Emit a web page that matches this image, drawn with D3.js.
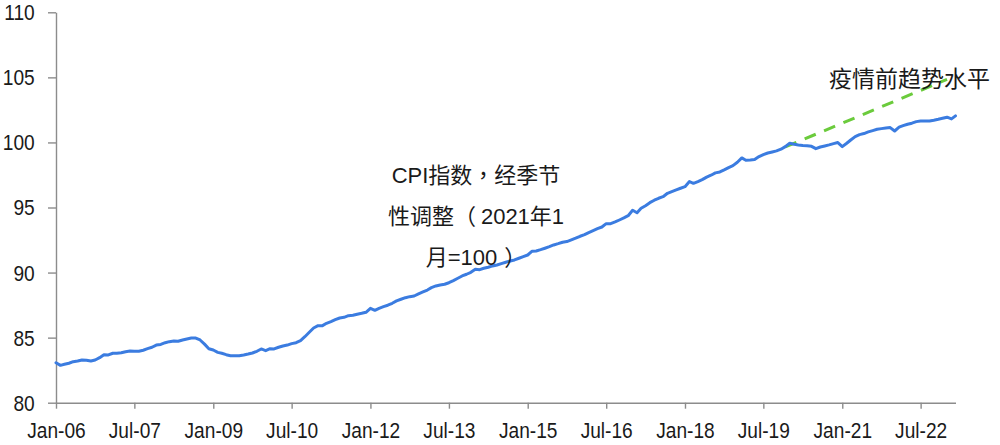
<!DOCTYPE html>
<html>
<head>
<meta charset="utf-8">
<script src="https://cdn.jsdelivr.net/npm/d3@7"></script>
<style>
  html, body { margin: 0; padding: 0; background: #fff; }
  svg { display: block; }
</style>
</head>
<body>
<svg id="chart" width="1000" height="445"></svg>
<script>
// ---------------- DATA ----------------
const startMonth = "2006-01";          // first observation (monthly series)
// CPI index, seasonally adjusted (Jan 2021 = 100), Jan-06 .. Mar-23
const cpiValues = [
  83.07, 82.87, 82.95, 83.03, 83.15, 83.20, 83.28, 83.26, 83.20, 83.28, 83.46, 83.69, // 2006
  83.67, 83.80, 83.80, 83.84, 83.92, 83.97, 83.95, 83.95, 84.03, 84.15, 84.26, 84.43, // 2007
  84.48, 84.61, 84.69, 84.74, 84.72, 84.82, 84.90, 84.97, 84.97, 84.82, 84.50, 84.15, // 2008
  84.05, 83.87, 83.80, 83.69, 83.61, 83.61, 83.61, 83.67, 83.74, 83.82, 83.95, 84.13, // 2009
  84.00, 84.15, 84.13, 84.26, 84.36, 84.43, 84.54, 84.61, 84.77, 85.07, 85.41, 85.74, // 2010
  85.92, 85.92, 86.10, 86.23, 86.38, 86.51, 86.56, 86.69, 86.72, 86.80, 86.87, 86.95, // 2011
  87.25, 87.10, 87.25, 87.38, 87.49, 87.64, 87.82, 87.95, 88.07, 88.15, 88.20, 88.36, // 2012
  88.51, 88.66, 88.84, 88.97, 89.05, 89.10, 89.22, 89.38, 89.56, 89.74, 89.87, 90.02, // 2013
  90.25, 90.22, 90.33, 90.41, 90.51, 90.58, 90.69, 90.79, 90.89, 90.97, 91.10, 91.22, // 2014
  91.35, 91.64, 91.66, 91.76, 91.87, 91.99, 92.12, 92.22, 92.33, 92.38, 92.51, 92.64, // 2015
  92.79, 92.91, 93.07, 93.22, 93.37, 93.50, 93.76, 93.76, 93.89, 94.04, 94.20, 94.37, // 2016
  94.79, 94.60, 94.94, 95.14, 95.37, 95.56, 95.71, 95.83, 96.09, 96.22, 96.35, 96.48, // 2017
  96.60, 96.99, 96.86, 96.99, 97.14, 97.33, 97.48, 97.66, 97.73, 97.89, 98.07, 98.22, // 2018
  98.48, 98.81, 98.63, 98.65, 98.68, 98.91, 99.06, 99.19, 99.27, 99.35, 99.48, 99.68, // 2019
  99.94, 99.86, 99.81, 99.77, 99.74, 99.70, 99.52, 99.65, 99.73, 99.81, 99.91, 99.99, // 2020
  99.68, 99.94, 100.19, 100.45, 100.60, 100.68, 100.81, 100.91, 101.01, 101.06, 101.11, 101.14, // 2021
  100.88, 101.17, 101.29, 101.40, 101.48, 101.60, 101.65, 101.65, 101.65, 101.71, 101.78, 101.86, // 2022
  101.94, 101.81, 102.04                                                             // 2023
];
// Pre-pandemic trend line (dashed)
const trendMonths = ["2019-12", "2023-01"];
const trendValues = [99.65, 104.85];

const xTickLabels = ["Jan-06","Jul-07","Jan-09","Jul-10","Jan-12","Jul-13","Jan-15","Jul-16","Jan-18","Jul-19","Jan-21","Jul-22"];
const yTickValues = [80, 85, 90, 95, 100, 105, 110];
const xDomainEnd = "2023-03";

// annotation text, split into runs so punctuation can be spaced like the original
const annotationLines = [
  [["CPI指数", 0, "sc"], ["，", 0, "tc"], ["经季节", 0, "sc"]],
  [["性调整（", 0, "sc"], ["2021年1", 5, "sc"]],
  [["月=100", 0, "sc"], ["）", 7, "sc"]]
];
const trendLabel = "疫情前趋势水平";

// ---------------- CHART ----------------
const parseM = d3.timeParse("%Y-%m");
const parseTick = d3.timeParse("%b-%y");
const svg = d3.select("#chart");

const months = d3.timeMonth.range(parseM(startMonth), d3.timeMonth.offset(parseM(startMonth), cpiValues.length));
const series = cpiValues.map((v, i) => ({ date: months[i], value: v }));
const trend = trendMonths.map((m, i) => ({ date: parseM(m), value: trendValues[i] }));

const x = d3.scaleTime()
  .domain([parseM(startMonth), parseM(xDomainEnd)])
  .range([56, 955.5]);
const y = d3.scaleLinear()
  .domain([80, 110])
  .range([402.7, 12.3]);

const axisColor = "#8c8c8c";
const labelFont = "'Liberation Sans', Arial, sans-serif";

// Y axis
const yAxis = svg.append("g")
  .attr("transform", "translate(56,0)")
  .call(d3.axisLeft(y).tickValues(yTickValues).tickSize(8).tickSizeOuter(0).tickFormat(d3.format("d")));
yAxis.select(".domain").attr("stroke", axisColor).attr("stroke-width", 1.4);
yAxis.selectAll(".tick line").attr("stroke", axisColor).attr("stroke-width", 1.4);
yAxis.selectAll(".tick text")
  .attr("x", -24.5)
  .attr("dy", "0.34em")
  .attr("transform", "scale(0.87,1)")
  .attr("fill", "#1a1a1a")
  .style("font-family", labelFont)
  .style("font-size", "22px");

// X axis
const xTickDates = xTickLabels.map(parseTick);
const xAxis = svg.append("g")
  .attr("transform", `translate(0,${y(80)})`)
  .call(d3.axisBottom(x).tickValues(xTickDates).tickSize(6).tickSizeOuter(0).tickPadding(14)
        .tickFormat((d, i) => xTickLabels[i]));
xAxis.select(".domain").attr("stroke", axisColor).attr("stroke-width", 1.4);
xAxis.selectAll(".tick line").attr("stroke", axisColor).attr("stroke-width", 1.4);
xAxis.selectAll(".tick text")
  .attr("x", 0)
  .attr("transform", "scale(0.87,1)")
  .attr("fill", "#1a1a1a")
  .style("font-family", labelFont)
  .style("font-size", "22px");

// Trend (dashed green)
const line = d3.line().x(d => x(d.date)).y(d => y(d.value));
svg.append("path")
  .datum(trend)
  .attr("d", line)
  .attr("fill", "none")
  .attr("stroke", "#6bcb3c")
  .attr("stroke-width", 3)
  .attr("stroke-dasharray", "12,9");

// CPI line (blue)
svg.append("path")
  .datum(series)
  .attr("d", line)
  .attr("fill", "none")
  .attr("stroke", "#3b7ce0")
  .attr("stroke-width", 3)
  .attr("stroke-linejoin", "round")
  .attr("stroke-linecap", "round");

// Annotations
const fonts = {
  sc: "'Liberation Sans', 'Noto Sans CJK SC', sans-serif",
  tc: "'Noto Sans CJK TC', 'Noto Sans CJK SC', sans-serif"
};
const annBaselines = [183, 224, 264.5];
annotationLines.forEach((runs, i) => {
  const t = svg.append("text")
    .attr("x", 476)
    .attr("y", annBaselines[i])
    .attr("text-anchor", "middle")
    .attr("fill", "#1a1a1a")
    .style("font-family", fonts.sc)
    .style("font-size", "22px");
  runs.forEach(([s, dx, f]) => {
    t.append("tspan").attr("dx", dx).style("font-family", fonts[f]).text(s);
  });
});

svg.append("text")
  .attr("x", 829)
  .attr("y", 86.5)
  .attr("fill", "#1a1a1a")
  .style("font-family", fonts.sc)
  .style("font-size", "23px")
  .text(trendLabel);
</script>
</body>
</html>
